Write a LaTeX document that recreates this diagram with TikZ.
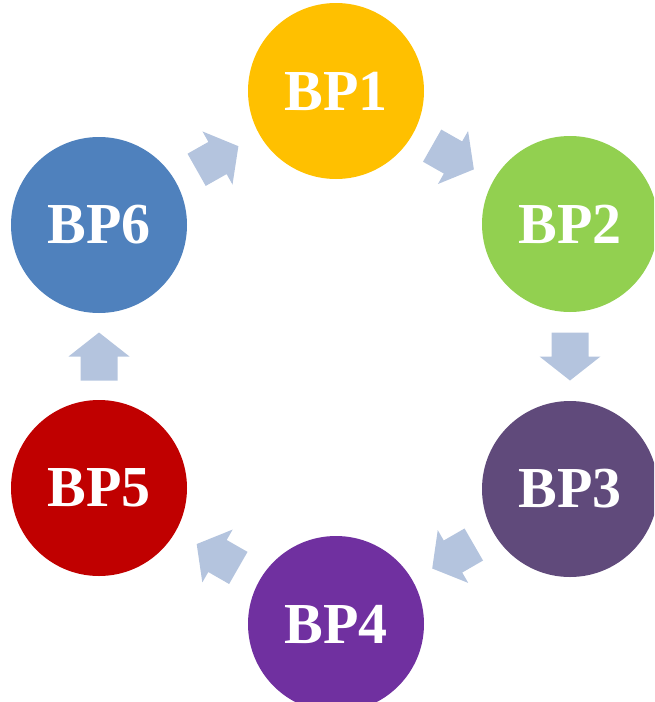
\documentclass[tikz,border=0pt]{standalone}
\usepackage{fontspec}
\setmainfont{Liberation Serif}
\definecolor{cbpone}{HTML}{FFC000}
\definecolor{cbptwo}{HTML}{92D050}
\definecolor{cbpthree}{HTML}{604A7B}
\definecolor{cbpfour}{HTML}{7030A0}
\definecolor{cbpfive}{HTML}{C00000}
\definecolor{cbpsix}{HTML}{4F81BD}
\definecolor{arrowblue}{RGB}{180,196,222}
\tikzset{
  bpnode/.style={circle, minimum size=176pt, inner sep=0pt, fill=#1,
    text=white, font=\bfseries\fontsize{58}{58}\selectfont},
  blockarr/.pic={
    \fill[arrowblue] (-24,-18.5) -- (0,-18.5) -- (0,-30.5) -- (24,0)
      -- (0,30.5) -- (0,18.5) -- (-24,18.5) -- cycle;
  },
  arrplace/.style={midway, sloped, allow upside down}
}
\begin{document}
\begin{tikzpicture}[x=1pt,y=-1pt]
\path[use as bounding box, clip] (0,0) rectangle (654,702);
\node[bpnode=cbpone]   (b1) at (336,91)  {BP1};
\node[bpnode=cbptwo]   (b2) at (570,224) {BP2};
\node[bpnode=cbpthree] (b3) at (570,489) {BP3};
\node[bpnode=cbpfour]  (b4) at (336,624) {BP4};
\node[bpnode=cbpfive]  (b5) at (99,488)  {BP5};
\node[bpnode=cbpsix]   (b6) at (99,225)  {BP6};
\path (b1.center) -- (b2.center) pic[arrplace] {blockarr};
\path (b2.center) -- (b3.center) pic[arrplace] {blockarr};
\path (b3.center) -- (b4.center) pic[arrplace] {blockarr};
\path (b4.center) -- (b5.center) pic[arrplace] {blockarr};
\path (b5.center) -- (b6.center) pic[arrplace] {blockarr};
\path (b6.center) -- (b1.center) pic[arrplace] {blockarr};
\end{tikzpicture}
\end{document}
